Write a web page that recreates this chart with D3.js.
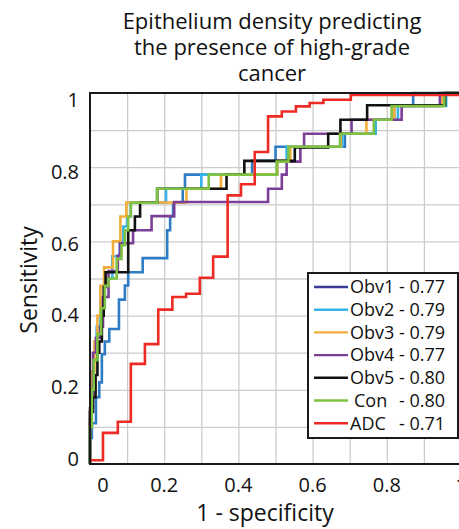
<!DOCTYPE html>
<html>
<head>
<meta charset="utf-8">
<script src="https://cdn.jsdelivr.net/npm/d3@7"></script>
<style>
  body { margin: 0; background: #fff; }
  text { font-family: "Open Sans", sans-serif; fill: #111; }
</style>
</head>
<body>
<div id="chart"></div>
<script>
const titleLines = ['Epithelium density predicting', 'the presence of high-grade', 'cancer']
const xTicks = [0, 0.2, 0.4, 0.6, 0.8, 1]
const yTicks = [0, 0.2, 0.4, 0.6, 0.8, 1]
const gridTicks = [0.1, 0.2, 0.3, 0.4, 0.5, 0.6, 0.7, 0.8, 0.9]
const seriesNames = ['Obv1', 'Obv2', 'Obv3', 'Obv4', 'Obv5', 'Con', 'ADC']
const aucValues = ['0.77', '0.79', '0.79', '0.77', '0.80', '0.80', '0.71']

// ROC staircase vertices, [1 - specificity, sensitivity]
const obv1 = [[0,0],[0,0.07],[0.005,0.07],[0.005,0.11],[0.016,0.11],[0.016,0.18],[0.025,0.18],[0.025,0.22],[0.032,0.22],[0.032,0.296],[0.04,0.296],[0.04,0.33],[0.052,0.33],[0.052,0.364],[0.078,0.364],[0.078,0.443],[0.094,0.443],[0.094,0.481],[0.103,0.481],[0.103,0.517],[0.142,0.517],[0.142,0.555],[0.208,0.555],[0.208,0.63],[0.216,0.63],[0.216,0.667],[0.224,0.667],[0.224,0.705],[0.25,0.705],[0.25,0.742],[0.256,0.742],[0.256,0.78],[0.437,0.78],[0.437,0.817],[0.5,0.817],[0.5,0.855],[0.687,0.855],[0.687,0.89],[0.77,0.89],[0.77,0.928],[0.82,0.928],[0.82,0.965],[0.871,0.965],[0.871,1],[1,1]]
const obv2 = [[0,0],[0,0.12],[0.004,0.12],[0.004,0.22],[0.01,0.22],[0.01,0.3],[0.018,0.3],[0.018,0.37],[0.028,0.37],[0.028,0.44],[0.038,0.44],[0.038,0.5],[0.06,0.5],[0.06,0.56],[0.08,0.56],[0.08,0.6],[0.09,0.6],[0.09,0.64],[0.1,0.64],[0.1,0.667],[0.11,0.667],[0.11,0.705],[0.205,0.705],[0.205,0.742],[0.30,0.742],[0.30,0.78],[0.505,0.78],[0.505,0.817],[0.53,0.817],[0.53,0.855],[0.68,0.855],[0.68,0.89],[0.77,0.89],[0.77,0.928],[0.83,0.928],[0.83,0.965],[0.96,0.965],[0.96,1],[1,1]]
const obv3 = [[0,0],[0,0.15],[0.005,0.15],[0.005,0.25],[0.012,0.25],[0.012,0.33],[0.02,0.33],[0.02,0.4],[0.028,0.4],[0.028,0.48],[0.038,0.48],[0.038,0.53],[0.062,0.53],[0.062,0.6],[0.082,0.6],[0.082,0.667],[0.098,0.667],[0.098,0.705],[0.26,0.705],[0.26,0.742],[0.353,0.742],[0.353,0.78],[0.505,0.78],[0.505,0.817],[0.54,0.817],[0.54,0.855],[0.676,0.855],[0.676,0.89],[0.745,0.89],[0.745,0.928],[0.82,0.928],[0.82,0.965],[0.95,0.965],[0.95,1],[1,1]]
const obv4 = [[0,0],[0,0.15],[0.008,0.15],[0.008,0.3],[0.016,0.3],[0.016,0.34],[0.027,0.34],[0.027,0.37],[0.035,0.37],[0.035,0.45],[0.05,0.45],[0.05,0.52],[0.075,0.52],[0.075,0.562],[0.081,0.562],[0.081,0.595],[0.116,0.595],[0.116,0.63],[0.166,0.63],[0.166,0.668],[0.227,0.668],[0.227,0.706],[0.48,0.706],[0.48,0.742],[0.517,0.742],[0.517,0.78],[0.53,0.78],[0.53,0.815],[0.567,0.815],[0.567,0.853],[0.577,0.853],[0.577,0.89],[0.705,0.89],[0.705,0.928],[0.84,0.928],[0.84,0.965],[0.943,0.965],[0.943,1],[1,1]]
const obv5 = [[0,0],[0,0.14],[0.008,0.14],[0.008,0.18],[0.015,0.18],[0.015,0.24],[0.02,0.24],[0.02,0.3],[0.025,0.3],[0.025,0.33],[0.032,0.33],[0.032,0.4],[0.037,0.4],[0.037,0.477],[0.042,0.477],[0.042,0.517],[0.103,0.517],[0.103,0.63],[0.121,0.63],[0.121,0.667],[0.135,0.667],[0.135,0.704],[0.181,0.704],[0.181,0.742],[0.368,0.742],[0.368,0.78],[0.416,0.78],[0.416,0.817],[0.552,0.817],[0.552,0.853],[0.642,0.853],[0.642,0.89],[0.675,0.89],[0.675,0.928],[0.747,0.928],[0.747,0.967],[0.957,0.967],[0.957,1],[1,1]]
const con = [[0,0],[0,0.1],[0.005,0.1],[0.005,0.2],[0.01,0.2],[0.01,0.28],[0.02,0.28],[0.02,0.35],[0.03,0.35],[0.03,0.42],[0.04,0.42],[0.04,0.48],[0.05,0.48],[0.05,0.5],[0.072,0.5],[0.072,0.553],[0.085,0.553],[0.085,0.59],[0.094,0.59],[0.094,0.63],[0.103,0.63],[0.103,0.667],[0.11,0.667],[0.11,0.704],[0.181,0.704],[0.181,0.742],[0.32,0.742],[0.32,0.78],[0.503,0.78],[0.503,0.815],[0.535,0.815],[0.535,0.855],[0.674,0.855],[0.674,0.89],[0.765,0.89],[0.765,0.928],[0.813,0.928],[0.813,0.965],[0.955,0.965],[0.955,1],[1,1]]
const adc = [[0,0.01],[0.035,0.01],[0.035,0.084],[0.075,0.084],[0.075,0.114],[0.11,0.114],[0.11,0.27],[0.148,0.27],[0.148,0.323],[0.184,0.323],[0.184,0.416],[0.222,0.416],[0.222,0.45],[0.259,0.45],[0.259,0.459],[0.296,0.459],[0.296,0.502],[0.332,0.502],[0.332,0.559],[0.371,0.559],[0.371,0.724],[0.407,0.724],[0.407,0.754],[0.444,0.754],[0.444,0.841],[0.48,0.841],[0.48,0.937],[0.517,0.937],[0.517,0.95],[0.555,0.95],[0.555,0.964],[0.592,0.964],[0.592,0.973],[0.629,0.973],[0.629,0.982],[0.703,0.982],[0.703,0.995],[1,0.995]]

const curves = [obv1, obv2, obv3, obv4, obv5, con, adc]
// the Obv1 curve is drawn in a lighter blue than its legend key in the original
const lineColors = ['#2d7cc4', '#36b3e8', '#f1ae3a', '#7b3f98', '#111111', '#7dc242', '#ee2a24']
const keyColors = ['#3b3a98', '#36b3e8', '#f1ae3a', '#7b3f98', '#111111', '#7dc242', '#ee2a24']

const width = 459, height = 529
const margin = { top: 93, right: -2, bottom: 65, left: 90 }
const w = width - margin.left - margin.right
const h = height - margin.top - margin.bottom

const svg = d3.select('#chart').append('svg')
  .attr('width', width)
  .attr('height', height)

// title
svg.append('g')
  .selectAll('text')
  .data(titleLines)
  .enter()
    .append('text')
    .attr('x', 272)
    .attr('y', (_, i) => 29 + i * 26)
    .attr('text-anchor', 'middle')
    .style('font-size', '22px')
    .text(d => d)

const g = svg.append('g')
  .attr('transform', 'translate(' + margin.left + ',' + margin.top + ')')

const xScale = d3.scaleLinear().domain([0, 1]).range([0, w])
const yScale = d3.scaleLinear().domain([0, 1]).range([h, 0])

// grid
g.append('g')
  .attr('class', 'grid')
  .attr('transform', 'translate(0,' + h + ')')
  .call(d3.axisBottom(xScale).tickValues(gridTicks).tickSize(-h).tickFormat(''))
g.append('g')
  .attr('class', 'grid')
  .call(d3.axisLeft(yScale).tickValues(gridTicks).tickSize(-w).tickFormat(''))
g.selectAll('.grid .domain').remove()
g.selectAll('.grid line').attr('stroke', '#cccccc').attr('stroke-width', 1.3)

// curves
const line = d3.line()
  .x(d => xScale(d[0]))
  .y(d => yScale(d[1]))

g.append('g')
  .selectAll('path')
  .data(curves)
  .enter()
    .append('path')
    .attr('fill', 'none')
    .attr('stroke', (_, i) => lineColors[i])
    .attr('stroke-width', 2.6)
    .attr('d', d => line(d))

// frame
g.append('rect')
  .attr('width', w)
  .attr('height', h)
  .attr('fill', 'none')
  .attr('stroke', '#1a1a1a')
  .attr('stroke-width', 2)

// tick labels
g.append('g')
  .selectAll('text')
  .data(xTicks)
  .enter()
    .append('text')
    .attr('x', d => xScale(d) + (d === 0 ? 13 : 0))
    .attr('y', h + 28)
    .attr('text-anchor', 'middle')
    .style('font-size', '20px')
    .text(d => d)

// labels sit a little inside the ends of the axis
const yLabel = d3.scaleLinear().domain([0, 1]).range([h - 5, 7])
g.append('g')
  .selectAll('text')
  .data(yTicks)
  .enter()
    .append('text')
    .attr('x', -11)
    .attr('y', d => yLabel(d))
    .attr('dy', '0.35em')
    .attr('text-anchor', 'end')
    .style('font-size', '20px')
    .text(d => d)

// axis titles
svg.append('text')
  .attr('x', 265)
  .attr('y', 521)
  .attr('text-anchor', 'middle')
  .style('font-size', '23px')
  .text('1 - specificity')

svg.append('text')
  .attr('transform', 'translate(37,280) rotate(-90)')
  .attr('text-anchor', 'middle')
  .style('font-size', '23px')
  .text('Sensitivity')

// legend
const legend = svg.append('g')
  .attr('transform', 'translate(308,273)')

legend.append('rect')
  .attr('width', 150)
  .attr('height', 165)
  .attr('fill', '#fff')
  .attr('stroke', '#1a1a1a')
  .attr('stroke-width', 2)

const rows = legend.selectAll('.legend-row')
  .data(seriesNames)
  .enter()
    .append('g')
    .attr('class', 'legend-row')
    .attr('transform', (_, i) => 'translate(0,' + (14 + i * 22.7) + ')')

rows.append('line')
  .attr('x1', 6)
  .attr('x2', 40)
  .attr('stroke', (_, i) => keyColors[i])
  .attr('stroke-width', 2.4)

rows.append('text')
  .attr('x', d => d === 'Con' ? 46 : 42)
  .attr('dy', '0.35em')
  .style('font-size', '18px')
  .text(d => d)

rows.append('text')
  .attr('x', 91)
  .attr('dy', '0.35em')
  .style('font-size', '18px')
  .text((_, i) => '- ' + aucValues[i])
</script>
</body>
</html>
